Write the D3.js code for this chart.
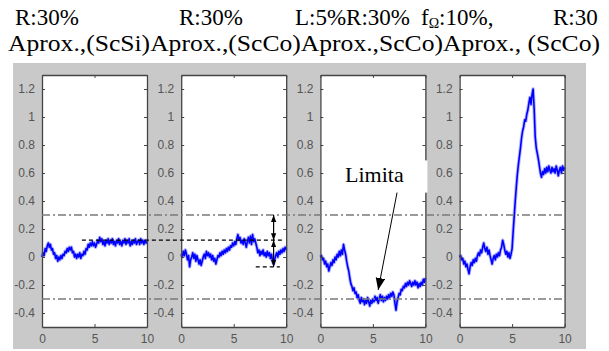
<!DOCTYPE html>
<html>
<head>
<meta charset="utf-8">
<script src="https://cdn.jsdelivr.net/npm/d3@7"></script>
<style>
	body { margin: 0; background: #fff; }
	svg { display: block; }
</style>
</head>
<body>
<svg id="chart"></svg>
<script>
// title texts (first line is split in pieces, one per panel)
const titleTop = ["R:30%", "R:30%", "L:5%R:30%", "fΩ:10%,", "R:30"]
const titleBottom = "Aprox.,(ScSi)Aprox.,(ScCo)Aprox.,ScCo)Aprox., (ScCo)"

// axis ticks
const yTicks = [-0.4, -0.2, 0, 0.2, 0.4, 0.6, 0.8, 1, 1.2]
const xTicks = [0, 5, 10]

// limit lines (dash-dot) at +/- 0.3
const limits = [0.3, -0.3]

// signals sampled every 0.1 s from 0 to 10 s
const signal1 = [
	0.00, 0.03, 0.01, 0.06, 0.04, 0.08, 0.10, 0.07, 0.09, 0.05,
	0.06, 0.02, 0.03, -0.01, 0.01, -0.03, 0.00, -0.02, 0.01, -0.01,
	0.02, 0.01, 0.04, 0.03, 0.06, 0.04, 0.07, 0.05, 0.07, 0.03,
	0.04, 0.00, 0.02, -0.01, 0.02, 0.00, 0.03, -0.01, 0.02, 0.01,
	0.04, 0.02, 0.06, 0.05, 0.09, 0.07, 0.10, 0.08, 0.11, 0.08,
	0.10, 0.07, 0.09, 0.12, 0.10, 0.14, 0.11, 0.13, 0.09, 0.11,
	0.08, 0.12, 0.10, 0.13, 0.09, 0.12, 0.10, 0.13, 0.09, 0.11,
	0.08, 0.12, 0.10, 0.13, 0.09, 0.11, 0.08, 0.12, 0.10, 0.13,
	0.09, 0.12, 0.10, 0.13, 0.08, 0.11, 0.09, 0.12, 0.10, 0.13,
	0.09, 0.11, 0.12, 0.09, 0.13, 0.10, 0.12, 0.09, 0.12, 0.10,
	0.11]
const signal2 = [
	0.02, 0.00, 0.04, 0.01, 0.05, 0.02, -0.02, 0.01, -0.07, -0.02,
	0.00, 0.03, -0.01, 0.02, -0.03, 0.01, -0.02, -0.05, -0.02, -0.06,
	-0.03, 0.00, 0.02, -0.01, 0.04, 0.01, 0.03, 0.00, 0.02, -0.02,
	0.01, -0.03, -0.01, -0.05, -0.02, 0.01, 0.00, 0.03, 0.01, 0.04,
	0.02, 0.05, 0.03, 0.06, 0.04, 0.07, 0.05, 0.08, 0.07, 0.10,
	0.08, 0.11, 0.09, 0.13, 0.16, 0.12, 0.14, 0.10, 0.12, 0.09,
	0.13, 0.10, 0.07, 0.11, 0.14, 0.10, 0.15, 0.09, 0.16, 0.11,
	0.13, 0.10, 0.07, 0.03, 0.05, 0.01, 0.04, 0.02, 0.05, 0.01,
	0.03, 0.00, 0.04, 0.01, 0.03, -0.01, 0.02, -0.03, -0.05, -0.02,
	0.01, 0.03, 0.00, 0.04, 0.02, 0.05, 0.03, 0.06, 0.04, 0.07,
	0.05]
const signal3 = [
	0.00, 0.01, -0.02, -0.01, -0.05, -0.03, -0.07, -0.05, -0.10, -0.07,
	-0.04, -0.06, -0.02, -0.04, 0.00, -0.02, 0.02, 0.00, 0.04, 0.01,
	0.05, 0.02, 0.09, 0.05, 0.02, -0.03, -0.07, -0.10, -0.15, -0.19,
	-0.21, -0.24, -0.22, -0.26, -0.25, -0.29, -0.27, -0.31, -0.33, -0.29,
	-0.32, -0.30, -0.34, -0.31, -0.33, -0.29, -0.32, -0.35, -0.31, -0.33,
	-0.30, -0.32, -0.28, -0.31, -0.29, -0.33, -0.30, -0.27, -0.31, -0.28,
	-0.32, -0.29, -0.31, -0.28, -0.30, -0.27, -0.29, -0.26, -0.28, -0.25,
	-0.27, -0.33, -0.38, -0.32, -0.29, -0.26, -0.27, -0.23, -0.24, -0.21,
	-0.22, -0.19, -0.21, -0.18, -0.20, -0.17, -0.19, -0.21, -0.18, -0.20,
	-0.17, -0.20, -0.18, -0.22, -0.19, -0.21, -0.18, -0.20, -0.16, -0.18,
	-0.15]
const signal4 = [
	0.00, 0.01, -0.02, -0.01, -0.05, -0.03, -0.07, -0.05, -0.09, -0.12,
	-0.07, -0.04, -0.06, -0.02, -0.04, -0.01, -0.03, 0.01, 0.03, 0.01,
	0.05, 0.03, 0.07, 0.10, 0.06, 0.04, 0.07, 0.02, 0.05, 0.01,
	-0.02, -0.05, -0.01, 0.01, -0.02, 0.02, 0.00, 0.03, 0.01, 0.05,
	0.07, 0.12, 0.09, 0.05, 0.02, 0.04, 0.00, 0.03, -0.01, 0.02,
	0.06, 0.18, 0.29, 0.40, 0.50, 0.59, 0.66, 0.72, 0.78, 0.85,
	0.90, 0.93, 0.98, 0.97, 1.02, 1.05, 1.10, 1.14, 1.09, 1.16,
	1.20, 1.06, 0.86, 0.78, 0.74, 0.70, 0.65, 0.60, 0.57, 0.61,
	0.59, 0.63, 0.60, 0.64, 0.61, 0.65, 0.62, 0.60, 0.64, 0.61,
	0.63, 0.60, 0.65, 0.62, 0.58, 0.62, 0.64, 0.60, 0.65, 0.62,
	0.64]
const signals = [signal1, signal2, signal3, signal4]

// annotations: dashed reference level between panel 1 and 2
const refLevel = 0.12, refStart = 3.8, refEnd = 9.6
// double arrows in panel 2 and the short dashed level under them
const arrowX = 8.8
const arrowSpans = [[0.3, 0.12], [0.12, -0.07]]
const lowLevel = -0.07, lowStart = 7.1, lowEnd = 9.4
// pointer to the limit in panel 3
const noteText = "Limita"
const pointerFrom = [7.3, 0.46], pointerTo = [5.5, -0.235]

const width = 609, height = 351
const svg = d3.select("#chart")
	.attr("width", width)
	.attr("height", height)

const defs = svg.append("defs")
defs.append("marker")
	.attr("id", "head")
	.attr("viewBox", "0 0 8 6")
	.attr("refX", 8).attr("refY", 3)
	.attr("markerWidth", 7).attr("markerHeight", 6)
	.attr("markerUnits", "userSpaceOnUse")
	.attr("orient", "auto-start-reverse")
	.append("path").attr("d", "M0,0L8,3L0,6Z").attr("fill", "#000")
defs.append("marker")
	.attr("id", "bighead")
	.attr("viewBox", "0 0 10 8")
	.attr("refX", 10).attr("refY", 4)
	.attr("markerWidth", 12).attr("markerHeight", 10)
	.attr("markerUnits", "userSpaceOnUse")
	.attr("orient", "auto")
	.append("path").attr("d", "M0,0L10,4L0,8Z").attr("fill", "#000")

// title
const serif = "'Liberation Serif', 'Times New Roman', serif"
const titleX = [15, 179, 295, 421, 553]
titleTop.forEach((t, i) => {
	const txt = svg.append("text")
		.attr("x", titleX[i]).attr("y", 25)
		.attr("font-family", serif).attr("font-size", 23)
	if (t.includes("Ω")) {
		const parts = t.split("Ω")
		txt.append("tspan").text(parts[0])
		txt.append("tspan").attr("font-size", 14).attr("dy", 3).text("Ω")
		txt.append("tspan").attr("dy", -3).text(parts[1])
	} else {
		txt.text(t)
	}
})
svg.append("text")
	.attr("x", 8).attr("y", 51)
	.attr("font-family", serif).attr("font-size", 24)
	.attr("textLength", 592)
	.attr("lengthAdjust", "spacingAndGlyphs")
	.text(titleBottom)

// gray figure background
svg.append("rect")
	.attr("x", 13).attr("y", 63)
	.attr("width", 573).attr("height", 286)
	.attr("fill", "#c9c9c9")

const panelW = 105, axTop = 75, axBottom = 327, step = 139.2, left0 = 42
const y = d3.scaleLinear().domain([-0.5, 1.3]).range([axBottom, axTop])
const xs = signals.map((s, i) => d3.scaleLinear()
	.domain([0, 10])
	.range([left0 + i * step, left0 + i * step + panelW]))

const fmt = d => String(+d.toFixed(1))
const sans = "'Liberation Sans', Arial, sans-serif"

signals.forEach((vals, i) => {
	const x = xs[i]
	const g = svg.append("g")

	g.append("rect")
		.attr("x", x(0)).attr("y", y(1.3))
		.attr("width", x(10) - x(0)).attr("height", y(-0.5) - y(1.3))
		.attr("fill", "#fff")

	//the noisy signal
	const line = d3.line()
		.x((d, k) => x(k / 10))
		.y(d => y(d))
	g.append("path")
		.datum(vals)
		.attr("fill", "none")
		.attr("stroke", "#5a5aff")
		.attr("stroke-opacity", 0.45)
		.attr("stroke-width", 3.5)
		.attr("stroke-linejoin", "round")
		.attr("d", line)
	g.append("path")
		.datum(vals)
		.attr("fill", "none")
		.attr("stroke", "#0000ff")
		.attr("stroke-width", 1.6)
		.attr("stroke-linejoin", "round")
		.attr("d", line)

	//axes with inward ticks on all four sides
	const axes = [
		[d3.axisLeft(y).tickValues(yTicks).tickFormat(fmt), `translate(${x(0)},0)`],
		[d3.axisRight(y).tickValues(yTicks).tickFormat(""), `translate(${x(10)},0)`],
		[d3.axisBottom(x).tickValues(xTicks).tickFormat(fmt), `translate(0,${y(-0.5)})`],
		[d3.axisTop(x).tickValues(xTicks).tickFormat(""), `translate(0,${y(1.3)})`]
	]
	axes.forEach(([ax, tr]) => {
		const a = g.append("g")
			.attr("transform", tr)
			.call(ax.tickSize(-3).tickSizeOuter(0).tickPadding(7))
		a.select(".domain").attr("stroke", "#444").attr("stroke-width", 1.3)
		a.selectAll(".tick line").attr("stroke", "#444")
		a.selectAll(".tick text")
			.attr("fill", "#555")
			.attr("font-family", sans)
			.attr("font-size", 12)
	})
})

// dash-dot limit lines across all panels
svg.selectAll(".limit")
	.data(limits)
	.enter()
	.append("line")
	.attr("x1", xs[0](0)).attr("x2", xs[3](10))
	.attr("y1", d => y(d)).attr("y2", d => y(d))
	.attr("stroke", "#7a7a7a")
	.attr("stroke-width", 1.5)
	.attr("stroke-dasharray", "8,3,2,3")

// dashed reference level from panel 1 into panel 2
svg.append("line")
	.attr("x1", xs[0](refStart)).attr("x2", xs[1](refEnd))
	.attr("y1", y(refLevel)).attr("y2", y(refLevel))
	.attr("stroke", "#000").attr("stroke-width", 1.2)
	.attr("stroke-dasharray", "4,3")
svg.append("line")
	.attr("x1", xs[1](lowStart)).attr("x2", xs[1](lowEnd))
	.attr("y1", y(lowLevel)).attr("y2", y(lowLevel))
	.attr("stroke", "#000").attr("stroke-width", 1.2)
	.attr("stroke-dasharray", "4,3")

// double arrows in panel 2
svg.selectAll(".span")
	.data(arrowSpans)
	.enter()
	.append("line")
	.attr("x1", xs[1](arrowX)).attr("x2", xs[1](arrowX))
	.attr("y1", d => y(d[0])).attr("y2", d => y(d[1]))
	.attr("stroke", "#000").attr("stroke-width", 1.2)
	.attr("marker-start", "url(#head)")
	.attr("marker-end", "url(#head)")

// note box and pointer in panel 3
svg.append("rect")
	.attr("x", xs[2](0.45)).attr("y", y(0.69))
	.attr("width", xs[2](10) - xs[2](0.45) + 2).attr("height", y(0.46) - y(0.69))
	.attr("fill", "#fff")
svg.append("text")
	.attr("x", xs[2](2.35)).attr("y", y(0.535))
	.attr("font-family", serif).attr("font-size", 22)
	.text(noteText)
svg.append("line")
	.attr("x1", xs[2](pointerFrom[0])).attr("y1", y(pointerFrom[1]))
	.attr("x2", xs[2](pointerTo[0])).attr("y2", y(pointerTo[1]))
	.attr("stroke", "#000").attr("stroke-width", 1)
	.attr("marker-end", "url(#bighead)")
</script>
</body>
</html>
